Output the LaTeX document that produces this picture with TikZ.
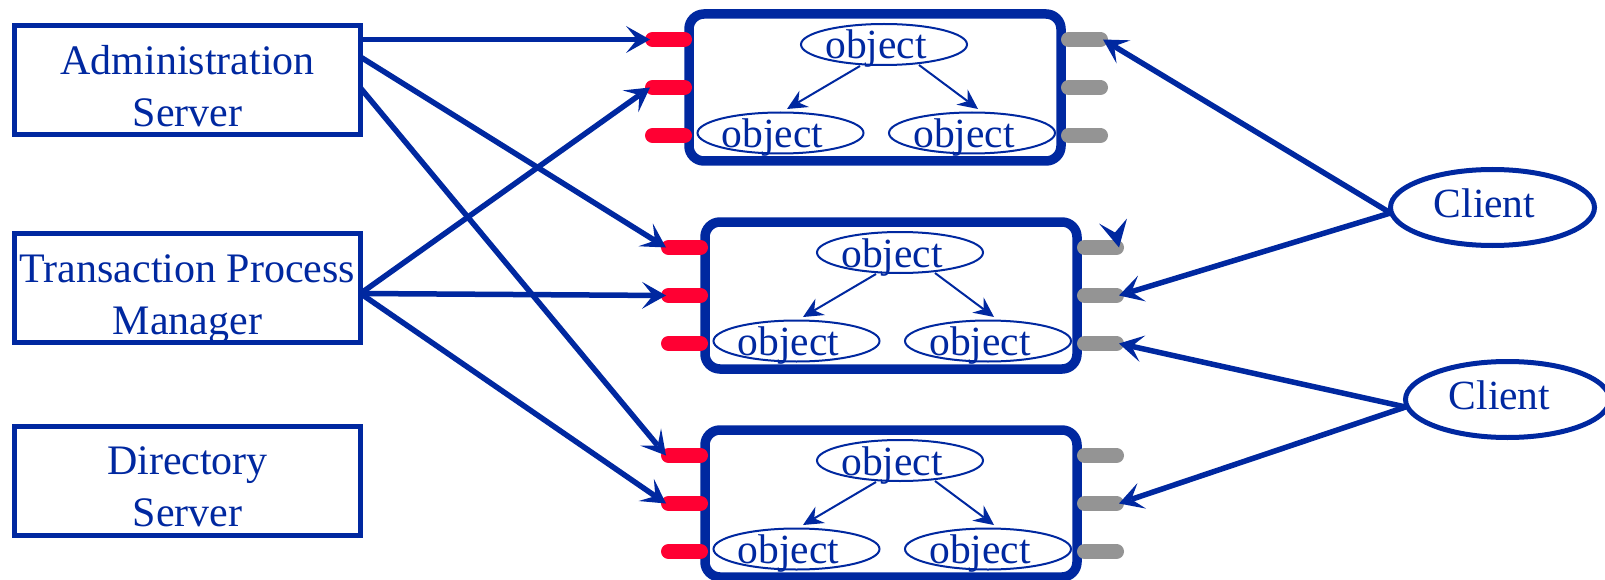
\documentclass[tikz,border=0pt]{standalone}
\usepackage{fontspec}
\setmainfont{Liberation Serif}
\usetikzlibrary{arrows.meta,shapes.geometric}
\definecolor{navy}{RGB}{0,40,160}
\definecolor{portred}{RGB}{255,0,51}
\definecolor{portgray}{RGB}{148,148,148}
% label set slightly low and left inside its shape
\newcommand\offtext[2]{\raisebox{#1}[0pt][0pt]{#2\hspace*{16pt}}}
% one line of the server captions
\newcommand\lnstrut{\rule[-15.6pt]{0pt}{52pt}}
\begin{document}
\begin{tikzpicture}[x=1pt,y=-1pt,
  every node/.style={outer sep=0pt},
  txt/.style={font=\fontsize{41.5}{52}\selectfont, text=navy},
  lbltxt/.style={font=\fontsize{42}{52}\selectfont, text=navy},
  srvbox/.style={draw=navy, line width=5pt, minimum width=346pt, minimum height=109pt, inner sep=0pt},
  lbl/.style={lbltxt, align=center, inner sep=0pt},
  host/.style={draw=navy, line width=9.5pt, rounded corners=15pt, minimum width=372pt, minimum height=147pt, inner sep=0pt, fill=white},
  obj/.style={ellipse, draw=navy, line width=2pt, minimum width=160pt, minimum height=41pt, inner sep=0pt, txt},
  client/.style={ellipse, draw=navy, line width=5pt, minimum width=204pt, minimum height=76pt, inner sep=0pt, txt},
  conn/.style={draw=navy, line width=5.5pt, -{Stealth[length=24pt,width=27pt,inset=11pt,line width=0pt]}},
  link/.style={draw=navy, line width=2pt, -{Stealth[length=20pt,width=19pt,inset=7pt,line width=0pt]}},
  inport/.style={draw=portred, line width=15pt, line cap=round},
  outport/.style={draw=portgray, line width=15pt, line cap=round},
]
\fill[white] (0,0) rectangle (1605,580);
\useasboundingbox (0,0) rectangle (1605,580);

% servers on the left
\node[srvbox] (adm) at (187.5,80) {};
\node[lbl] (admtxt) at ([yshift=-10.5pt]adm.center) {\lnstrut Administration\\\lnstrut Server};
\node[srvbox] (tpm) at (187.5,287.5) {};
\node[lbl] (tpmtxt) at ([yshift=-10.5pt]tpm.center) {\lnstrut Transaction Process\\\lnstrut Manager};
\node[srvbox] (dir) at (187.5,480.5) {};
\node[lbl] (dirtxt) at ([yshift=-10pt]dir.center) {\lnstrut Directory\\\lnstrut Server};

% object hosts
\node[host] (s1) at (875,87.5) {};
\node[host] (s2) at (891,295.5) {};
\node[host] (s3) at (891,503.5) {};

% ports: red inputs on the left, grey outputs on the right
\foreach \s in {s1,s2,s3}{
  \foreach \i/\dy in {1/48,2/0,3/-48}{
    \draw[inport] ([xshift=-36.5pt,yshift=\dy pt]\s.west) -- ([xshift=-4.5pt,yshift=\dy pt]\s.west);
    \draw[outport] ([xshift=7.5pt,yshift=\dy pt]\s.east) -- ([xshift=39.5pt,yshift=\dy pt]\s.east);
    \coordinate (\s-in\i) at ([xshift=-39pt,yshift=\dy pt]\s.west);
    \coordinate (\s-out\i) at ([xshift=42pt,yshift=\dy pt]\s.east);
  }
}

% object trees inside each host
\foreach \s/\n in {s1/1,s2/2,s3/3}{
  \node[obj] (o\n-t) at ([xshift=9pt,yshift=43pt]\s.center) {\offtext{-14.5pt}{object}};
  \node[obj] (o\n-l) at ([xshift=-94.5pt,yshift=-45.5pt]\s.center) {\offtext{-14.5pt}{object}};
  \node[obj] (o\n-r) at ([xshift=97pt,yshift=-45.5pt]\s.center) {\offtext{-14.5pt}{object}};
  \draw[link] ([xshift=-24pt,yshift=-21.5pt]o\n-t.center) -- ([xshift=6.5pt,yshift=24pt]o\n-l.center);
  \draw[link] ([xshift=35pt,yshift=-20.5pt]o\n-t.center) -- ([xshift=6pt,yshift=24pt]o\n-r.center);
}

% clients
\node[client] (cl1) at (1492.5,207.5) {\offtext{-10.5pt}{Client}};
\node[client] (cl2) at (1507.5,399.5) {\offtext{-9.5pt}{Client}};

% administration server links
\draw[conn] ([yshift=40.5pt]adm.east) -- (s1-in1);
\draw[conn] ([yshift=23pt]adm.east) -- (s2-in1);
\draw[conn] ([yshift=-8pt]adm.east) -- (s3-in1);
% transaction process manager links
\draw[conn] ([yshift=-6pt]tpm.east) -- (s1-in2);
\draw[conn] ([yshift=-6pt]tpm.east) -- (s2-in2);
\draw[conn] ([yshift=-6pt]tpm.east) -- (s3-in2);
% client requests
\draw[conn] ([yshift=-5.5pt]cl1.west) -- (s1-out1);
\draw[conn] ([yshift=-5.5pt]cl1.west) -- (s2-out2);
\draw[conn] ([yshift=-7.5pt]cl2.west) -- (s2-out3);
\draw[conn] ([yshift=-7.5pt]cl2.west) -- (s3-out2);

% lone arrow head on the first output of the middle host
\fill[navy] (s2-out1) -- ++(-20,-24) -- ++(16,9) -- ++(12,-14) -- cycle;
\end{tikzpicture}
\end{document}
